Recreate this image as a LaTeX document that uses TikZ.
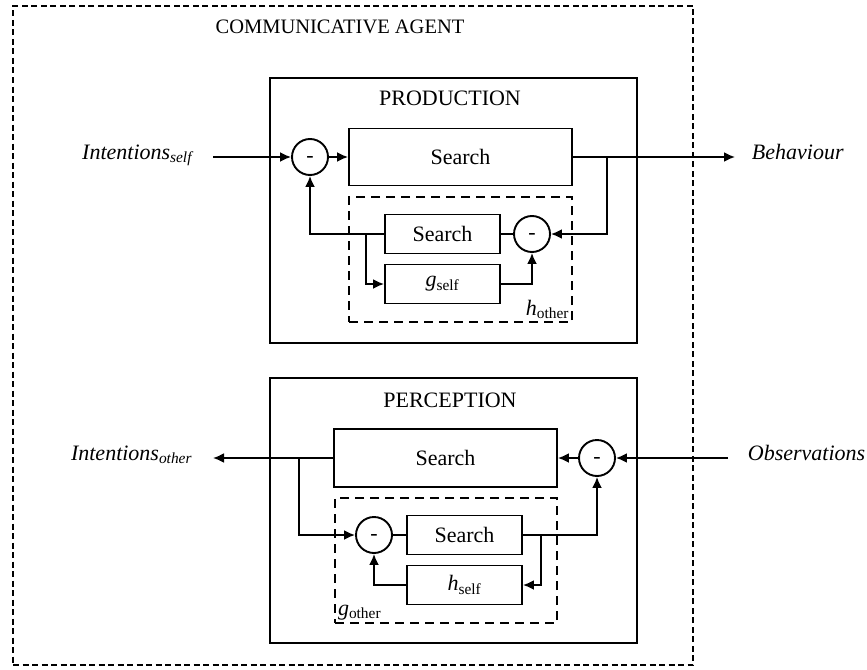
\documentclass[tikz,border=0pt]{standalone}
\usepackage{fontspec}
\setmainfont{Liberation Serif}
\usetikzlibrary{arrows.meta}

\begin{document}
\begin{tikzpicture}[x=1pt,y=-1pt,node distance=50pt,>={Latex[length=11pt,width=10pt]},font=\fontsize{22}{26}\selectfont,line width=1.9pt]

\tikzstyle{block}=[draw,rectangle,inner sep=0pt]
\tikzstyle{sum}=[draw,circle,minimum size=36pt,inner sep=0pt,text height=10pt,text depth=0pt]
\tikzstyle{group}=[draw,rectangle,dash pattern=on 9pt off 6pt,inner sep=0pt]
\tikzstyle{signal}=[font=\fontsize{22}{26}\selectfont\itshape,inner ysep=0pt]

    \useasboundingbox (0,0) rectangle (867,669);

    % agent
    \node[group,dash pattern=on 6pt off 3.5pt,minimum width=680pt,minimum height=659pt] (agent) at (353,335.5) {};
    \node[font=\fontsize{20.5}{24}\selectfont] (agenttitle) at (340,27) {COMMUNICATIVE AGENT};

    % production
    \node[block,minimum width=367pt,minimum height=265pt] (prod) at (453.5,210.5) {};
    \node (prodtitle) at (450,98) {PRODUCTION};
    \node[sum]                                               (psum)   at (310,157)   {-};
    \node[block,minimum width=223pt,minimum height=57pt]     (psearch) at (460.5,157) {Search};
    \node[group,minimum width=223pt,minimum height=125pt]    (pgroup) at (460.5,259.5) {};
    \node[block,minimum width=115pt,minimum height=39pt]     (pinner) at (442.5,234) {Search};
    \node[block,minimum width=115pt,minimum height=39pt,below of=pinner] (gself) {{\itshape g}\textsubscript{self}};
    \node[sum]                                               (psum2)  at (532,234)   {-};
    \node[anchor=south east,inner sep=3pt] (hother) at (pgroup.south east) {{\itshape h}\textsubscript{other}};

    \node[signal,anchor=mid east,inner xsep=20pt] (intself) at (213,157) {Intentions\textsubscript{self}};
    \node[signal,anchor=mid west,inner xsep=16pt] (behav)   at (735,157) {Behaviour};
    \coordinate (ptap)  at (607,157);
    \coordinate (ptap2) at (366,234);

    \draw[->] (intself.mid east) -- (psum.west);
    \draw[->] (psum) -- (psearch);
    \draw[->] (psearch.east) -- (behav.mid west);
    \draw[->] (ptap) |- (psum2.east);
    \draw     (pinner.east) -- (psum2.west);
    \draw[->] (gself.east) -| (psum2.south);
    \draw[->] (pinner.west) -| (psum.south);
    \draw[->] (ptap2) |- (gself.west);

    % perception
    \node[block,minimum width=367pt,minimum height=265pt] (perc) at (453.5,510.5) {};
    \node (perctitle) at (450,400) {PERCEPTION};
    \node[sum]                                               (csum)   at (597,458)   {-};
    \node[block,minimum width=223pt,minimum height=58pt]     (csearch) at (445.5,458) {Search};
    \node[group,minimum width=222pt,minimum height=125pt]    (cgroup) at (446,560.5) {};
    \node[block,minimum width=115pt,minimum height=39pt]     (cinner) at (464.5,535) {Search};
    \node[block,minimum width=115pt,minimum height=39pt,below of=cinner] (hself) {{\itshape h}\textsubscript{self}};
    \node[sum]                                               (csum2)  at (374,535)   {-};
    \node[anchor=south west,inner sep=3pt] (gother) at (cgroup.south west) {{\itshape g}\textsubscript{other}};

    \node[signal,anchor=mid east,inner xsep=20pt] (intother) at (213,458) {Intentions\textsubscript{other}};
    \node[signal,anchor=mid west,inner xsep=19pt] (obs)      at (728,458) {Observations};
    \coordinate (ctap)  at (299,458);
    \coordinate (ctap2) at (541,535);

    \draw[->] (obs.mid west) -- (csum.east);
    \draw[->] (csum) -- (csearch);
    \draw[->] (csearch.west) -- (intother.mid east);
    \draw[->] (ctap) |- (csum2.west);
    \draw     (cinner.west) -- (csum2.east);
    \draw[->] (cinner.east) -| (csum.south);
    \draw[->] (ctap2) |- (hself.east);
    \draw[->] (hself.west) -| (csum2.south);

\end{tikzpicture}
\end{document}
